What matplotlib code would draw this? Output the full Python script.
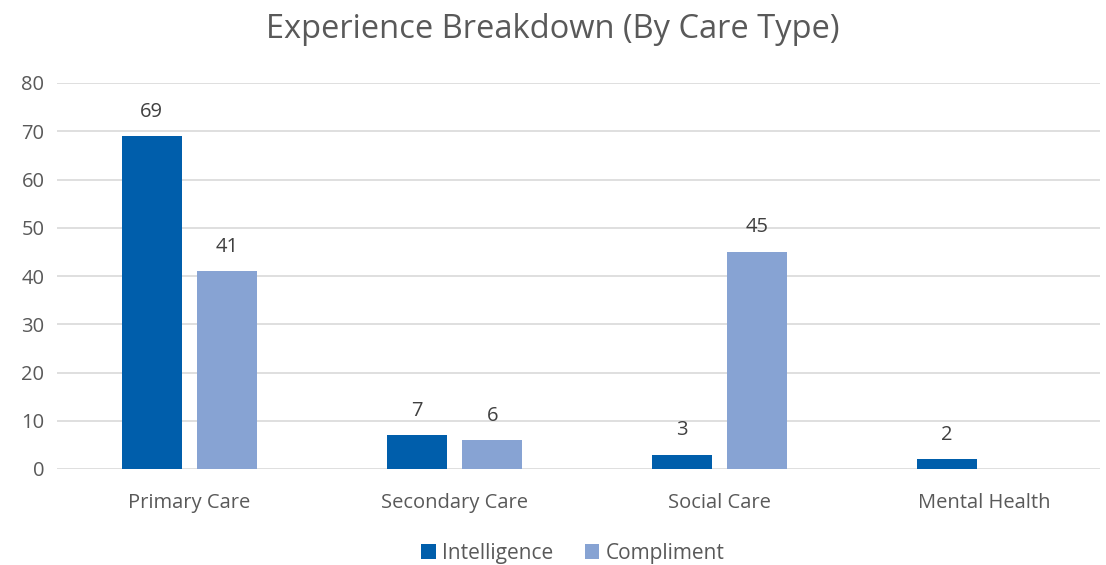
import matplotlib.pyplot as plt
import numpy as np

plt.rcParams['font.family'] = ['Open Sans', 'DejaVu Sans']

categories = ["Primary Care", "Secondary Care", "Social Care", "Mental Health"]
intelligence = [69, 7, 3, 2]
compliment = [41, 6, 45, 0]

c_int = '#005EAB'
c_comp = '#87A3D3'
txt = '#595959'

fig = plt.figure(figsize=(11.06, 5.65), dpi=100)
ax = fig.add_axes([57/1106, 96/565, (1100-57)/1106, (469-83)/565])

x = np.arange(len(categories))
w = 0.226
off = 0.143
b1 = ax.bar(x - off, intelligence, w, color=c_int, label='Intelligence', zorder=3)
b2 = ax.bar(x + off, compliment, w, color=c_comp, label='Compliment', zorder=3)

for bars, vals in [(b1, intelligence), (b2, compliment)]:
    for b, v in zip(bars, vals):
        if v == 0:
            continue
        ax.text(b.get_x() + b.get_width()/2, v + 3, str(v), ha='center', va='bottom',
                fontsize=14.5, color='#404040')

ax.set_xlim(-0.5, -0.5 + (1100-57)/265)
ax.set_ylim(0, 80)
ax.set_yticks(range(0, 81, 10))
ax.set_xticks(x)
ax.set_xticklabels(categories)
ax.tick_params(axis='both', length=0, labelsize=14.5, colors=txt)
ax.tick_params(axis='x', pad=17)
ax.tick_params(axis='y', pad=9)
ax.grid(axis='y', color='#D9D9D9', linewidth=1.2, zorder=0)
for s in ax.spines.values():
    s.set_visible(False)

fig.text(0.5, 1 - 30/565, 'Experience Breakdown (By Care Type)', ha='center', va='center',
         fontsize=23.5, color=txt)
fig.legend(loc='center', bbox_to_anchor=(0.518, 1 - 553/565), ncol=2, frameon=False,
           fontsize=15, handlelength=0.7, handleheight=0.7, handletextpad=0.3,
           columnspacing=1.5, labelcolor=txt, borderpad=0)

fig.savefig('out.png', dpi=100)
